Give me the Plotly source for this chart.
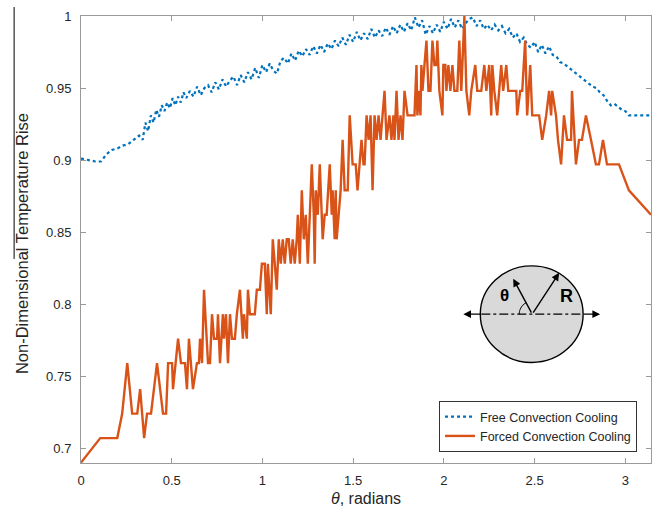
import numpy as np
import plotly.graph_objects as go

# ---------------- data ----------------
free_theta = [0.000, 0.040, 0.080, 0.110, 0.140, 0.170, 0.200, 0.230, 0.260, 0.290, 0.320, 0.340,
              0.355, 0.370, 0.385, 0.400, 0.415, 0.430, 0.445, 0.460, 0.475, 0.490, 0.505, 0.520,
              0.535, 0.550, 0.565, 0.580, 0.600, 0.620, 0.640, 0.660, 0.680, 0.700, 0.720, 0.740,
              0.760, 0.780, 0.800, 0.820, 0.840, 0.860, 0.880, 0.900, 0.920, 0.940, 0.960, 0.980,
              1.000, 1.020, 1.040, 1.060, 1.080, 1.100, 1.120, 1.140, 1.160, 1.180, 1.200, 1.220,
              1.240, 1.260, 1.280, 1.300, 1.320, 1.340, 1.360, 1.380, 1.400, 1.420, 1.440, 1.460,
              1.480, 1.500, 1.520, 1.540, 1.560, 1.580, 1.600, 1.620, 1.640, 1.660, 1.680, 1.700,
              1.720, 1.740, 1.760, 1.780, 1.800, 1.820, 1.840, 1.860, 1.880, 1.900, 1.920, 1.940,
              1.960, 1.980, 2.000, 2.020, 2.040, 2.060, 2.080, 2.100, 2.120, 2.140, 2.160, 2.180,
              2.200, 2.220, 2.240, 2.260, 2.280, 2.300, 2.320, 2.340, 2.360, 2.380, 2.400, 2.420,
              2.440, 2.460, 2.480, 2.500, 2.520, 2.540, 2.560, 2.580, 2.600, 2.620, 2.640, 2.660,
              2.680, 2.700, 2.720, 2.740, 2.760, 2.780, 2.800, 2.820, 2.840, 2.860, 2.880, 2.900,
              2.920, 2.940, 2.960, 2.980, 3.000, 3.020, 3.060, 3.100, 3.1416]
free_vals = [0.901, 0.900, 0.899, 0.899, 0.904, 0.907, 0.908, 0.910, 0.911, 0.914, 0.917, 0.914,
             0.926, 0.920, 0.931, 0.926, 0.935, 0.930, 0.938, 0.934, 0.940, 0.936, 0.943, 0.938,
             0.944, 0.940, 0.947, 0.943, 0.948, 0.944, 0.951, 0.945, 0.950, 0.952, 0.947, 0.954,
             0.949, 0.956, 0.951, 0.955, 0.958, 0.952, 0.959, 0.954, 0.961, 0.956, 0.964, 0.957,
             0.966, 0.961, 0.967, 0.962, 0.960, 0.969, 0.971, 0.967, 0.974, 0.969, 0.976, 0.972,
             0.977, 0.973, 0.979, 0.974, 0.980, 0.975, 0.981, 0.977, 0.983, 0.979, 0.985, 0.980,
             0.987, 0.982, 0.989, 0.983, 0.988, 0.984, 0.991, 0.985, 0.990, 0.986, 0.992, 0.987,
             0.993, 0.988, 0.994, 0.989, 0.995, 0.990, 0.999, 0.992, 0.997, 0.987, 0.993, 0.988,
             0.994, 0.989, 0.996, 0.991, 0.998, 0.992, 0.997, 0.991, 0.995, 0.998, 0.999, 0.993,
             0.997, 0.991, 0.994, 0.990, 0.994, 0.990, 0.993, 0.988, 0.991, 0.985, 0.988, 0.982,
             0.985, 0.980, 0.978, 0.982, 0.975, 0.980, 0.974, 0.979, 0.973, 0.972, 0.968, 0.967,
             0.965, 0.963, 0.961, 0.959, 0.957, 0.955, 0.953, 0.951, 0.950, 0.947, 0.945, 0.941,
             0.938, 0.939, 0.937, 0.935, 0.934, 0.931, 0.931, 0.931, 0.931]

forced_theta = [0.000, 0.106, 0.200, 0.227, 0.255, 0.282, 0.310, 0.326, 0.348, 0.364, 0.386, 0.419,
                0.452, 0.469, 0.480, 0.502, 0.507, 0.535, 0.551, 0.573, 0.584, 0.595, 0.617, 0.639,
                0.650, 0.656, 0.667, 0.678, 0.700, 0.711, 0.722, 0.733, 0.750, 0.755, 0.766, 0.782,
                0.788, 0.799, 0.810, 0.821, 0.832, 0.848, 0.859, 0.876, 0.892, 0.898, 0.914, 0.920,
                0.931, 0.958, 0.969, 0.986, 0.997, 1.013, 1.024, 1.030, 1.046, 1.057, 1.068, 1.079,
                1.090, 1.101, 1.112, 1.123, 1.134, 1.145, 1.156, 1.167, 1.178, 1.189, 1.195, 1.206,
                1.217, 1.228, 1.239, 1.250, 1.261, 1.272, 1.283, 1.288, 1.294, 1.305, 1.316, 1.327,
                1.332, 1.343, 1.354, 1.371, 1.382, 1.387, 1.398, 1.404, 1.409, 1.420, 1.431, 1.442,
                1.453, 1.470, 1.481, 1.497, 1.514, 1.524, 1.535, 1.546, 1.557, 1.563, 1.574, 1.585,
                1.596, 1.607, 1.618, 1.629, 1.640, 1.651, 1.662, 1.673, 1.684, 1.700, 1.711, 1.722,
                1.728, 1.739, 1.750, 1.761, 1.772, 1.783, 1.800, 1.838, 1.849, 1.854, 1.865, 1.871,
                1.876, 1.882, 1.893, 1.904, 1.915, 1.926, 1.937, 1.948, 1.959, 1.964, 1.975, 1.992,
                1.997, 2.008, 2.014, 2.025, 2.036, 2.047, 2.058, 2.074, 2.085, 2.096, 2.113, 2.124,
                2.140, 2.151, 2.173, 2.184, 2.206, 2.223, 2.234, 2.250, 2.261, 2.267, 2.278, 2.294,
                2.316, 2.327, 2.344, 2.355, 2.371, 2.399, 2.404, 2.421, 2.432, 2.448, 2.459, 2.476,
                2.487, 2.509, 2.525, 2.542, 2.564, 2.580, 2.591, 2.597, 2.618, 2.629, 2.646, 2.662,
                2.679, 2.701, 2.706, 2.728, 2.745, 2.761, 2.783, 2.811, 2.838, 2.855, 2.877, 2.899,
                2.965, 3.020, 3.1416]
forced_vals = [0.690, 0.707, 0.707, 0.724, 0.759, 0.724, 0.724, 0.741, 0.707, 0.724, 0.724, 0.759,
               0.724, 0.724, 0.759, 0.759, 0.741, 0.776, 0.759, 0.759, 0.741, 0.776, 0.741, 0.759,
               0.759, 0.776, 0.759, 0.810, 0.759, 0.759, 0.793, 0.776, 0.776, 0.793, 0.759, 0.793,
               0.776, 0.793, 0.759, 0.793, 0.776, 0.776, 0.793, 0.810, 0.776, 0.793, 0.776, 0.810,
               0.793, 0.793, 0.810, 0.810, 0.828, 0.828, 0.793, 0.828, 0.793, 0.845, 0.828, 0.810,
               0.845, 0.828, 0.845, 0.828, 0.845, 0.845, 0.828, 0.845, 0.828, 0.845, 0.862, 0.828,
               0.879, 0.845, 0.862, 0.828, 0.862, 0.897, 0.862, 0.828, 0.879, 0.862, 0.897, 0.862,
               0.845, 0.862, 0.862, 0.897, 0.862, 0.879, 0.845, 0.879, 0.845, 0.862, 0.879, 0.914,
               0.879, 0.879, 0.931, 0.897, 0.897, 0.879, 0.897, 0.914, 0.897, 0.897, 0.931, 0.914,
               0.931, 0.879, 0.931, 0.914, 0.931, 0.914, 0.931, 0.948, 0.914, 0.931, 0.914, 0.931,
               0.914, 0.948, 0.914, 0.931, 0.914, 0.948, 0.931, 0.931, 0.966, 0.931, 0.948, 0.931,
               0.966, 0.948, 0.966, 0.983, 0.948, 0.948, 0.983, 0.966, 0.966, 0.983, 0.948, 0.931,
               0.966, 0.966, 0.948, 0.966, 0.948, 0.966, 0.948, 0.948, 0.983, 0.948, 1.000, 0.948,
               0.931, 0.948, 0.966, 0.948, 0.948, 0.966, 0.948, 0.966, 0.931, 0.966, 0.948, 0.931,
               0.966, 0.948, 0.966, 0.948, 0.948, 0.948, 0.931, 0.948, 0.948, 0.983, 0.931, 0.966,
               0.931, 0.931, 0.931, 0.914, 0.931, 0.948, 0.931, 0.948, 0.931, 0.914, 0.897, 0.931,
               0.914, 0.914, 0.948, 0.897, 0.914, 0.914, 0.931, 0.914, 0.897, 0.897, 0.914, 0.897,
               0.897, 0.879, 0.862]

x_ticks = [0, 0.5, 1, 1.5, 2, 2.5, 3]
x_tick_labels = ["0", "0.5", "1", "1.5", "2", "2.5", "3"]
y_ticks = [0.7, 0.75, 0.8, 0.85, 0.9, 0.95, 1]
y_tick_labels = ["0.7", "0.75", "0.8", "0.85", "0.9", "0.95", "1"]

BLUE = "#0072BD"
ORANGE = "#D95319"
FONT = "Liberation Sans, Arial, sans-serif"

# ---------------- layout geometry ----------------
W, H = 661, 515
ML, MR, MT, MB = 81, 9, 14, 52
XR = [0, np.pi]
YR = [0.6897, 1.0]
PW, PH = W - ML - MR, H - MT - MB


def px2x(p):
    return XR[0] + (p - ML) / PW * (XR[1] - XR[0])


def py2y(p):
    return YR[1] - (p - MT) / PH * (YR[1] - YR[0])


fig = go.Figure()
fig.add_trace(go.Scatter(x=free_theta, y=free_vals, mode="lines", name="Free Convection Cooling",
                         line=dict(color=BLUE, width=2.2, dash="dot")))
fig.add_trace(go.Scatter(x=forced_theta, y=forced_vals, mode="lines", name="Forced Convection Cooling",
                         line=dict(color=ORANGE, width=2.4)))

axis_common = dict(showgrid=False, zeroline=False, showline=True, linecolor="#9a9a9a", linewidth=1,
                   mirror="ticks", ticks="inside", ticklen=5, tickcolor="#9a9a9a", tickwidth=1,
                   tickfont=dict(family=FONT, size=13, color="#262626"))
fig.update_xaxes(range=XR, tickvals=x_ticks, ticktext=x_tick_labels, ticklabelstandoff=5, **axis_common)
fig.update_yaxes(range=YR, tickvals=y_ticks, ticktext=y_tick_labels, ticklabelstandoff=6, **axis_common)

shapes = []
annotations = []

# inset: circle
cx, cy = 533, 313.5
shapes.append(dict(type="circle", xref="x", yref="y", x0=px2x(481), x1=px2x(584), y0=py2y(362), y1=py2y(265),
                   fillcolor="#d9d9d9", line=dict(color="black", width=1.4)))
shapes.append(dict(type="line", xref="x", yref="y", x0=px2x(482), x1=px2x(584), y0=py2y(cy), y1=py2y(cy),
                   line=dict(color="black", width=1.2, dash="dashdot")))
# small angle arc
ang = np.linspace(np.pi, np.radians(118), 12)
r = 13
path = "M " + " L ".join(f"{px2x(cx + r*np.cos(a))},{py2y(cy - r*np.sin(a))}" for a in ang)
shapes.append(dict(type="path", xref="x", yref="y", path=path, line=dict(color="black", width=1)))
# vertical line at far left
shapes.append(dict(type="line", xref="paper", yref="paper", x0=(14 - ML) / PW, x1=(14 - ML) / PW,
                   y0=(H - MB - 5) / PH, y1=(H - MB - 258) / PH, line=dict(color="black", width=1)))

def arrow(head, tail):
    annotations.append(dict(x=px2x(head[0]), y=py2y(head[1]), ax=px2x(tail[0]), ay=py2y(tail[1]),
                            xref="x", yref="y", axref="x", ayref="y", showarrow=True, text="",
                            arrowhead=2, arrowsize=1.1, arrowwidth=1.4, arrowcolor="black"))

arrow((464, cy), (483, cy))
arrow((601, cy), (583, cy))
arrow((560, 272), (cx, cy))
arrow((514, 278), (cx, cy))

annotations.append(dict(x=px2x(505), y=py2y(295), xref="x", yref="y", text="<b>θ</b>", showarrow=False,
                        font=dict(family=FONT, size=17, color="black")))
annotations.append(dict(x=px2x(567), y=py2y(295), xref="x", yref="y", text="<b>R</b>", showarrow=False,
                        font=dict(family=FONT, size=18, color="black")))

# axis titles
annotations.append(dict(x=(22 - ML) / PW, y=0.49, xref="paper", yref="paper", text="Non-Dimensional Temperature Rise",
                        textangle=-90, showarrow=False, xanchor="center", yanchor="middle",
                        font=dict(family=FONT, size=16.5, color="#262626")))
annotations.append(dict(x=0.5, y=-(499 - (H - MB)) / PH, xref="paper", yref="paper", text="<i>θ</i>, radians",
                        showarrow=False, xanchor="center", yanchor="middle",
                        font=dict(family=FONT, size=16, color="#262626")))

fig.update_layout(
    width=W, height=H, margin=dict(l=ML, r=MR, t=MT, b=MB),
    paper_bgcolor="white", plot_bgcolor="white",
    shapes=shapes, annotations=annotations,
    showlegend=True,
    legend=dict(x=(638 - ML) / PW, y=(H - MB - 452) / PH, xanchor="right", yanchor="bottom",
                bgcolor="white", bordercolor="#333333", borderwidth=1, tracegroupgap=0,
                font=dict(family=FONT, size=12.5, color="#262626"), itemwidth=30),
)

fig.write_html("out.html")
